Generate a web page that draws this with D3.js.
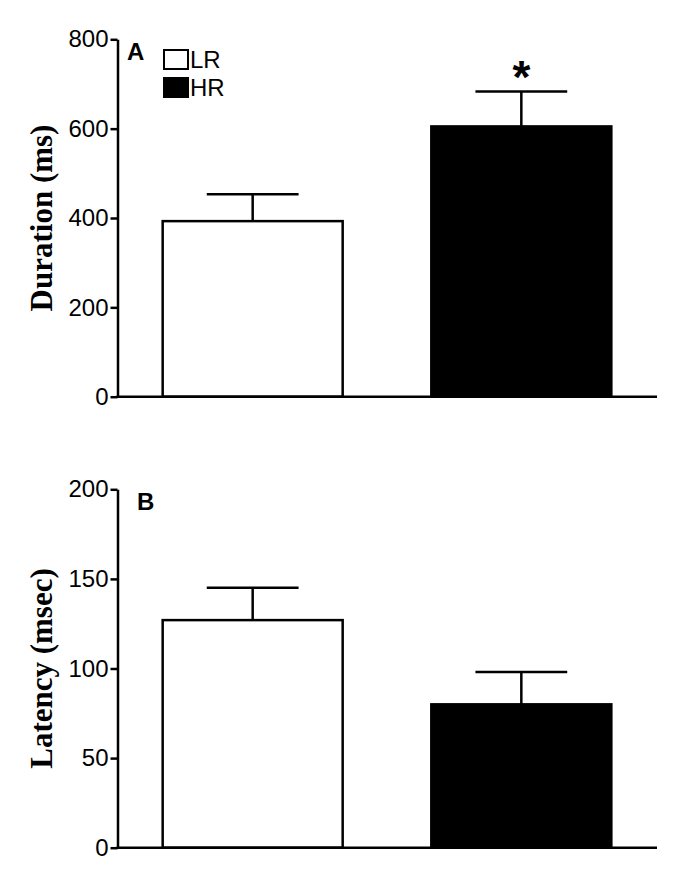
<!DOCTYPE html>
<html>
<head>
<meta charset="utf-8">
<script src="https://cdn.jsdelivr.net/npm/d3@7"></script>
<style>
  body { margin: 0; background: #fff; }
  .tick text { font-family: "Liberation Sans", Arial, sans-serif; font-size: 24px; fill: #000; }
  .axisTitle { font-family: "Liberation Serif", "Times New Roman", serif; font-weight: bold; font-size: 31px; }
</style>
</head>
<body>
<div id="svg-area"></div>
<script>
// data
var groups = ["LR", "HR"];
var durationMean = [393, 605];
var durationSem = [60, 78];
var latencyMean = [127, 80];
var latencySem = [18, 18];
var durationTicks = [0, 200, 400, 600, 800];
var latencyTicks = [0, 50, 100, 150, 200];

var svgWidth = 696, svgHeight = 888;

var svg = d3.select("#svg-area")
  .append("svg")
  .attr("width", svgWidth)
  .attr("height", svgHeight);

// shared x scale
var xScale = d3.scaleBand()
  .domain(groups)
  .range([117, 657])
  .paddingInner(0.33)
  .paddingOuter(0.17);

var fills = { LR: "#fff", HR: "#000" };

function drawPanel(opts) {
  var y = d3.scaleLinear().domain([0, opts.max]).range([opts.bottom, opts.top]);
  var g = svg.append("g");

  // bars
  g.selectAll("rect.bar")
    .data(groups)
    .join("rect")
    .attr("class", "bar")
    .attr("x", d => xScale(d))
    .attr("width", xScale.bandwidth())
    .attr("y", (d, i) => y(opts.mean[i]))
    .attr("height", (d, i) => y(0) - y(opts.mean[i]))
    .attr("fill", d => fills[d])
    .attr("stroke", "#000")
    .attr("stroke-width", 2.5);

  // error bars (upper only)
  var cx = d => xScale(d) + xScale.bandwidth() / 2;
  var capHalf = xScale.bandwidth() * 0.255;
  g.selectAll("line.err")
    .data(groups)
    .join("line")
    .attr("class", "err")
    .attr("x1", cx).attr("x2", cx)
    .attr("y1", (d, i) => y(opts.mean[i]))
    .attr("y2", (d, i) => y(opts.mean[i] + opts.sem[i]))
    .attr("stroke", "#000").attr("stroke-width", 2.5);
  g.selectAll("line.cap")
    .data(groups)
    .join("line")
    .attr("class", "cap")
    .attr("x1", d => cx(d) - capHalf).attr("x2", d => cx(d) + capHalf)
    .attr("y1", (d, i) => y(opts.mean[i] + opts.sem[i]))
    .attr("y2", (d, i) => y(opts.mean[i] + opts.sem[i]))
    .attr("stroke", "#000").attr("stroke-width", 2.5);

  // y axis
  var yAxis = g.append("g")
    .attr("transform", "translate(117.5,0)")
    .call(d3.axisLeft(y).tickValues(opts.ticks).tickSize(7).tickSizeOuter(0).tickPadding(2));
  yAxis.selectAll("path, line").attr("stroke", "#000").attr("stroke-width", 2.5);

  // x axis (line only)
  g.append("line")
    .attr("x1", 116.5).attr("x2", 657)
    .attr("y1", y(0)).attr("y2", y(0))
    .attr("stroke", "#000").attr("stroke-width", 2.5);

  // axis title
  g.append("text")
    .attr("class", "axisTitle")
    .attr("transform", `translate(52, ${(opts.top + opts.bottom) / 2}) rotate(-90)`)
    .attr("text-anchor", "middle")
    .text(opts.title);

  // panel letter
  g.append("text")
    .attr("x", opts.letterX).attr("y", opts.top + 21)
    .attr("font-family", "Liberation Sans, Arial, sans-serif")
    .attr("font-weight", "bold")
    .attr("font-size", 24)
    .text(opts.letter);

  return y;
}

var yA = drawPanel({
  max: 800, top: 39.3, bottom: 396.7, mean: durationMean, sem: durationSem,
  ticks: durationTicks, title: "Duration (ms)", letter: "A", letterX: 127
});

drawPanel({
  max: 200, top: 489.3, bottom: 847.7, mean: latencyMean, sem: latencySem,
  ticks: latencyTicks, title: "Latency (msec)", letter: "B", letterX: 137
});

// significance asterisk over HR in panel A
svg.append("text")
  .attr("x", xScale("HR") + xScale.bandwidth() / 2)
  .attr("y", yA(durationMean[1] + durationSem[1]) + 1)
  .attr("text-anchor", "middle")
  .attr("font-family", "Liberation Sans, Arial, sans-serif")
  .attr("font-weight", "bold")
  .attr("font-size", 46)
  .text("*");

// legend
var legend = svg.append("g").attr("transform", "translate(164,49)");
groups.forEach((d, i) => {
  legend.append("rect")
    .attr("x", 0).attr("y", i * 28 + 1)
    .attr("width", 24).attr("height", 19)
    .attr("fill", fills[d])
    .attr("stroke", "#000").attr("stroke-width", 2);
  legend.append("text")
    .attr("x", 26).attr("y", i * 28 + 19)
    .attr("font-family", "Liberation Sans, Arial, sans-serif")
    .attr("font-size", 24)
    .text(d);
});
</script>
</body>
</html>
